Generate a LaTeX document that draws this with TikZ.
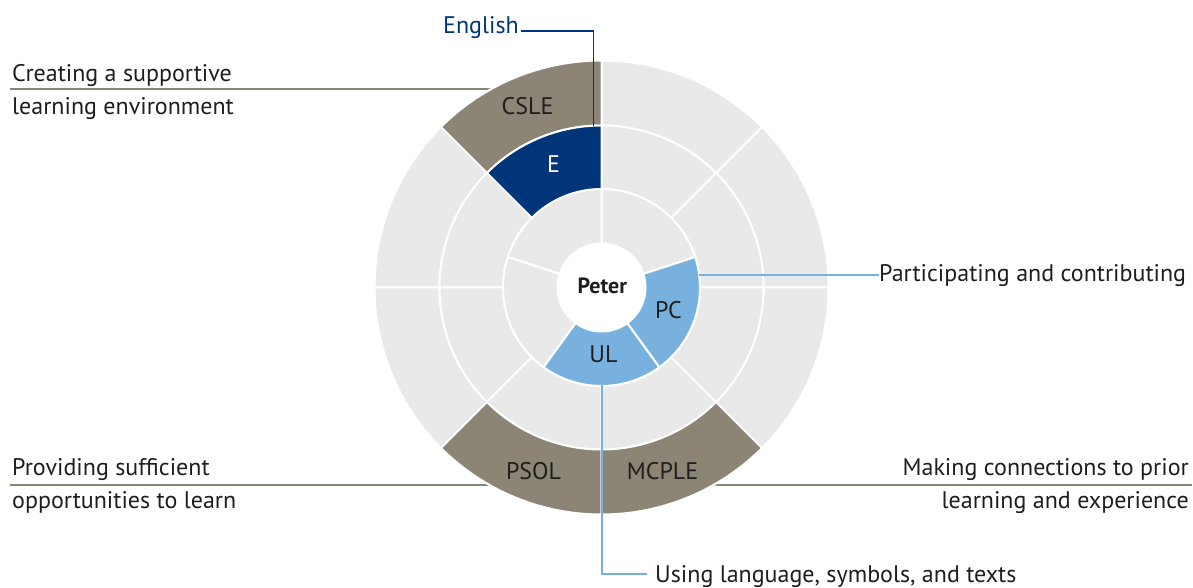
\documentclass[tikz,border=0pt]{standalone}
\usepackage{fontspec}
\setmainfont{PT Sans}
\usetikzlibrary{calc}

\definecolor{ringgray}{HTML}{E9E9E9}
\definecolor{khaki}{HTML}{8C8575}
\definecolor{navy}{HTML}{003679}
\definecolor{skyblue}{HTML}{79B1DE}
\definecolor{ink}{HTML}{1E1E1E}

% annular sector: inner radius, outer radius, start angle, end angle, fill colour
\newcommand\ringseg[5]{%
  \path[segment, fill=#5] (#3:#2) arc[start angle=#3, end angle=#4, radius=#2]
    -- (#4:#1) arc[start angle=#4, end angle=#3, radius=#1] -- cycle;}

\begin{document}
\begin{tikzpicture}[x=1pt, y=1pt,
  segment/.style={draw=white, line width=2pt, line join=miter},
  seglabel/.style={inner sep=0pt, text=ink, font=\fontsize{24}{28}\selectfont},
  sidetext/.style={inner sep=0pt, text=ink, align=left, font=\fontsize{24}{32.6}\selectfont},
  khakiline/.style={draw=khaki, line width=2pt},
  blueline/.style={draw=skyblue, line width=1.8pt},
  navyline/.style={draw=navy, line width=1.8pt}]
\useasboundingbox (0,0) rectangle (1193,588);
\coordinate (c) at (601.5,300.5);

% connectors to the outer ring, drawn first so the ring covers their ends
% (a two-line node's base anchor sits on its last line)
\node[sidetext, anchor=base west] (csletxt) at (12,473.7)
  {Creating a supportive\\learning environment};
\coordinate (csleedge) at (500,498.7);
\draw[khakiline] (csletxt.west |- csleedge) ++(-2,0) -- (csleedge);

\node[sidetext, anchor=base west] (psoltxt) at (12,79.8)
  {Providing sufficient\\opportunities to learn};
\coordinate (psoledge) at (500,102.5);
\draw[khakiline] (psoltxt.west |- psoledge) ++(-2,0) -- (psoledge);

\node[sidetext, anchor=base east, align=right] (mcpletxt) at (1189,79.8)
  {Making connections to prior\\learning and experience};
\coordinate (mcpleedge) at (703,102.5);
\draw[khakiline] (mcpleedge) -- (mcpletxt.east |- mcpleedge) ++(0,0) -- ++(3,0);

\begin{scope}[shift={(c)}]
  % outer ring: eight sectors
  \foreach \a/\b in {0/45,45/90,90/135,135/180,180/225,225/270,270/315,315/360}
    \ringseg{162}{227}{\a}{\b}{ringgray};
  % middle ring: eight sectors
  \foreach \a/\b in {0/45,45/90,90/135,135/180,180/225,225/270,270/315,315/360}
    \ringseg{98.5}{162}{\a}{\b}{ringgray};
  % inner ring: five sectors
  \foreach \a/\b in {18/90,90/162,162/234,234/306,306/378}
    \ringseg{44}{98.5}{\a}{\b}{ringgray};
  % highlighted sectors
  \ringseg{162}{227}{90}{135}{khaki}
  \ringseg{162}{227}{225}{270}{khaki}
  \ringseg{162}{227}{270}{315}{khaki}
  \ringseg{98.5}{162}{90}{135}{navy}
  \ringseg{44}{98.5}{234}{306}{skyblue}
  \ringseg{44}{98.5}{306}{378}{skyblue}
\end{scope}

% sector labels
\node[seglabel] (csle) at (527.5,481.5) {CSLE};
\node[seglabel, text=white] (e) at (553.5,424) {E};
\node[seglabel] (pc) at (668.5,278) {PC};
\node[seglabel] (ul) at (603.5,233.3) {UL};
\node[seglabel] (psol) at (533.5,117) {PSOL};
\node[seglabel] (mcple) at (662.5,117) {MCPLE};
\node[seglabel, font=\fontsize{22}{26}\selectfont\bfseries] (peter) at (602.3,302.5) {Peter};

% subject label
\node[sidetext, text=navy, anchor=base west] (eng) at (443,554) {English};
\coordinate (etop) at (593.5,462.3);
\draw[navyline] (eng.base east) ++(2,3) -| (etop);

% inner-ring labels
\coordinate (pcedge) at (699,312.7);
\node[sidetext, anchor=base west] (pctxt) at (879,306.3) {Participating and contributing};
\draw[blueline] (pcedge) -- (pctxt.west |- pcedge) ++(0,0) -- ++(-9,0);

\coordinate (uledge) at (601.9,202.5);
\node[sidetext, anchor=base west] (ultxt) at (655,5.8) {Using language, symbols, and texts};
\draw[blueline] (uledge) |- ($(ultxt.base west)+(-8,8)$);
\end{tikzpicture}
\end{document}
